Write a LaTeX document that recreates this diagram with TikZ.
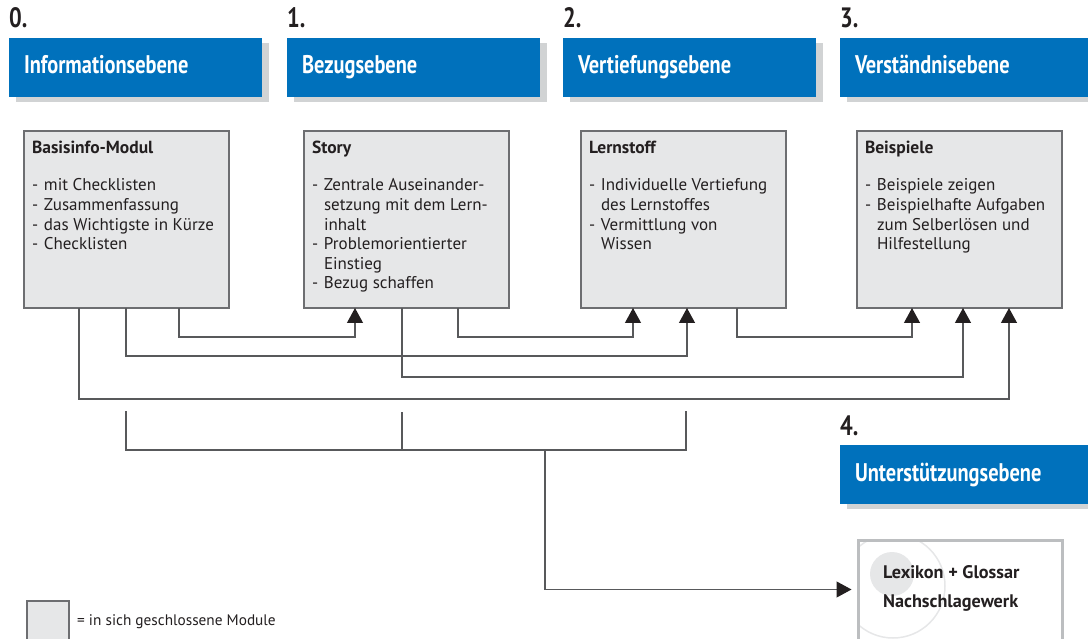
\documentclass[tikz,border=0pt]{standalone}
\usepackage{fontspec}
\setmainfont{PT Sans}
\newfontfamily\schmal{PT Sans}[FakeStretch=0.8]
\usepackage{xcolor}
\usetikzlibrary{arrows.meta,positioning,shadows}

\definecolor{ebenenblau}{RGB}{0,113,188}
\definecolor{schatten}{RGB}{209,211,212}
\definecolor{modulgrau}{RGB}{230,231,232}
\definecolor{rahmen}{RGB}{109,110,113}
\definecolor{linien}{RGB}{88,89,91}
\definecolor{spitze}{RGB}{35,31,32}
\definecolor{lexrahmen}{RGB}{188,190,192}

\newcommand{\punkt}[1]{\hangindent=12pt\hangafter=1\makebox[12pt][l]{-}#1\par}
\newcommand{\modulinhalt}[2]{%
  \begin{minipage}[c][177pt][t]{205pt}%
    \raggedright\leftskip=8pt\fontsize{17}{19.6}\selectfont
    \vspace*{10.5pt}{\bfseries\fontsize{17.5}{19.6}\selectfont #1}\par
    \vspace{17.4pt}#2%
  \end{minipage}}

\begin{document}
\begin{tikzpicture}[x=1pt,y=-1pt,
  ebene/.style={fill=ebenenblau, text=white, anchor=north west,
    font=\schmal\bfseries\fontsize{25.5}{30}\selectfont,
    minimum width=253pt, minimum height=59pt, text width=223pt,
    text height=18pt, text depth=5pt, inner xsep=15pt, align=left,
    outer sep=0pt,
    drop shadow={shadow xshift=7pt, shadow yshift=-5pt, fill=schatten, opacity=1}},
  nummer/.style={font=\schmal\bfseries\fontsize{28}{30}\selectfont,
    inner sep=0pt, text=spitze},
  modul/.style={draw=rahmen, fill=modulgrau, line width=1.2pt, inner sep=0pt,
    outer sep=0pt, anchor=north west, text=spitze},
  lexikon/.style={draw=lexrahmen, line width=3pt, outer sep=0pt,
    minimum width=204pt, minimum height=177pt, anchor=north west},
  linie/.style={draw=linien, line width=1.2pt},
  pfeil/.style={linie, -{Triangle[width=16pt,length=15pt,color=spitze]}}]
  \useasboundingbox (0,0) rectangle (1088,639);

  % Ebenen
  \node[ebene] (e0) at (9,38) {Informationsebene};
  \node[ebene] (e1) at (287,38) {Bezugsebene};
  \node[ebene] (e2) at (563,38) {Vertiefungsebene};
  \node[ebene] (e3) at (840,38) {Verständnisebene};
  \node[ebene] (e4) at (840,445) {Unterstützungsebene};
  \node[nummer, above=10pt of e0.north west, anchor=south west] (n0) {0.};
  \node[nummer, above=10pt of e1.north west, anchor=south west] (n1) {1.};
  \node[nummer, above=10pt of e2.north west, anchor=south west] (n2) {2.};
  \node[nummer, above=10pt of e3.north west, anchor=south west] (n3) {3.};
  \node[nummer, above=9pt of e4.north west, anchor=south west] (n4) {4.};

  % Module
  \node[modul] (m0) at (24,131) {\modulinhalt{Basisinfo-Modul}{%
    \punkt{mit Checklisten}
    \punkt{Zusammenfassung}
    \punkt{das Wichtigste in Kürze}
    \punkt{Checklisten}}};
  \node[modul] (m1) at (304,131) {\modulinhalt{Story}{%
    \punkt{Zentrale Auseinander-\newline setzung mit dem Lern-\newline inhalt}
    \punkt{Problemorientierter\newline Einstieg}
    \punkt{Bezug schaffen}}};
  \node[modul] (m2) at (581,131) {\modulinhalt{Lernstoff}{%
    \punkt{Individuelle Vertiefung\newline des Lernstoffes}
    \punkt{Vermittlung von\newline Wissen}}};
  \node[modul] (m3) at (857,131) {\modulinhalt{Beispiele}{%
    \punkt{Beispiele zeigen}
    \punkt{Beispielhafte Aufgaben\newline zum Selberlösen und\newline Hilfestellung}}};

  % Anschluesse unten
  \coordinate (m0a) at ([xshift=55pt]m0.south west);
  \coordinate (m0b) at ([xshift=102pt]m0.south west);
  \coordinate (m0c) at ([xshift=155pt]m0.south west);
  \coordinate (m1a) at ([xshift=51pt]m1.south west);
  \coordinate (m1b) at ([xshift=98pt]m1.south west);
  \coordinate (m1c) at ([xshift=154pt]m1.south west);
  \coordinate (m2a) at ([xshift=52pt]m2.south west);
  \coordinate (m2b) at ([xshift=106pt]m2.south west);
  \coordinate (m2c) at ([xshift=156pt]m2.south west);
  \coordinate (m3a) at ([xshift=55pt]m3.south west);
  \coordinate (m3b) at ([xshift=106pt]m3.south west);
  \coordinate (m3c) at ([xshift=152pt]m3.south west);

  \draw[pfeil] (m0c) -- ++(0,29) -| (m1a);
  \draw[pfeil] (m0b) -- ++(0,48) -| (m2b);
  \draw[pfeil] (m0a) -- ++(0,91) -| (m3c);
  \draw[pfeil] (m1b) -- ++(0,69) -| (m3b);
  \draw[pfeil] (m1c) -- ++(0,29) -| (m2a);
  \draw[pfeil] (m2c) -- ++(0,29) -| (m3a);

  % Lexikon
  \node[lexikon] (lex) at (858.5,540.5) {};
  \begin{scope}
    \clip ([xshift=1.5pt,yshift=-1.5pt]lex.north west)
      rectangle ([xshift=-1.5pt,yshift=1.5pt]lex.south east);
    \fill[modulgrau] (892,574) circle (22);
    \draw[modulgrau, line width=1.5pt] (893,586) circle (52);
  \end{scope}
  \node[anchor=base west, align=left, inner sep=0pt, text=spitze,
    font=\bfseries\fontsize{18.2}{29}\selectfont] (lt) at (883,607)
    {Lexikon + Glossar\\Nachschlagewerk};

  % Klammer zur Unterstuetzungsebene
  \coordinate (k0) at (126,411);
  \coordinate (k1) at (402,412);
  \coordinate (k2) at (686,411);
  \coordinate (k3) at (545,450);
  \draw[linie] (k0) |- (k3) -| (k2);
  \draw[linie] (k1) -- (k1 |- k3);
  \draw[pfeil, shorten >=7pt] (k3) |- ([yshift=-49pt]lex.north west);

  % Legende
  \node[modul, minimum size=42pt] (leg) at (27,601) {};
  \node[anchor=base west, inner sep=0pt, text=spitze,
    font=\fontsize{15.3}{18}\selectfont] (legtext) at (77,625)
    {= in sich geschlossene Module};
\end{tikzpicture}
\end{document}
